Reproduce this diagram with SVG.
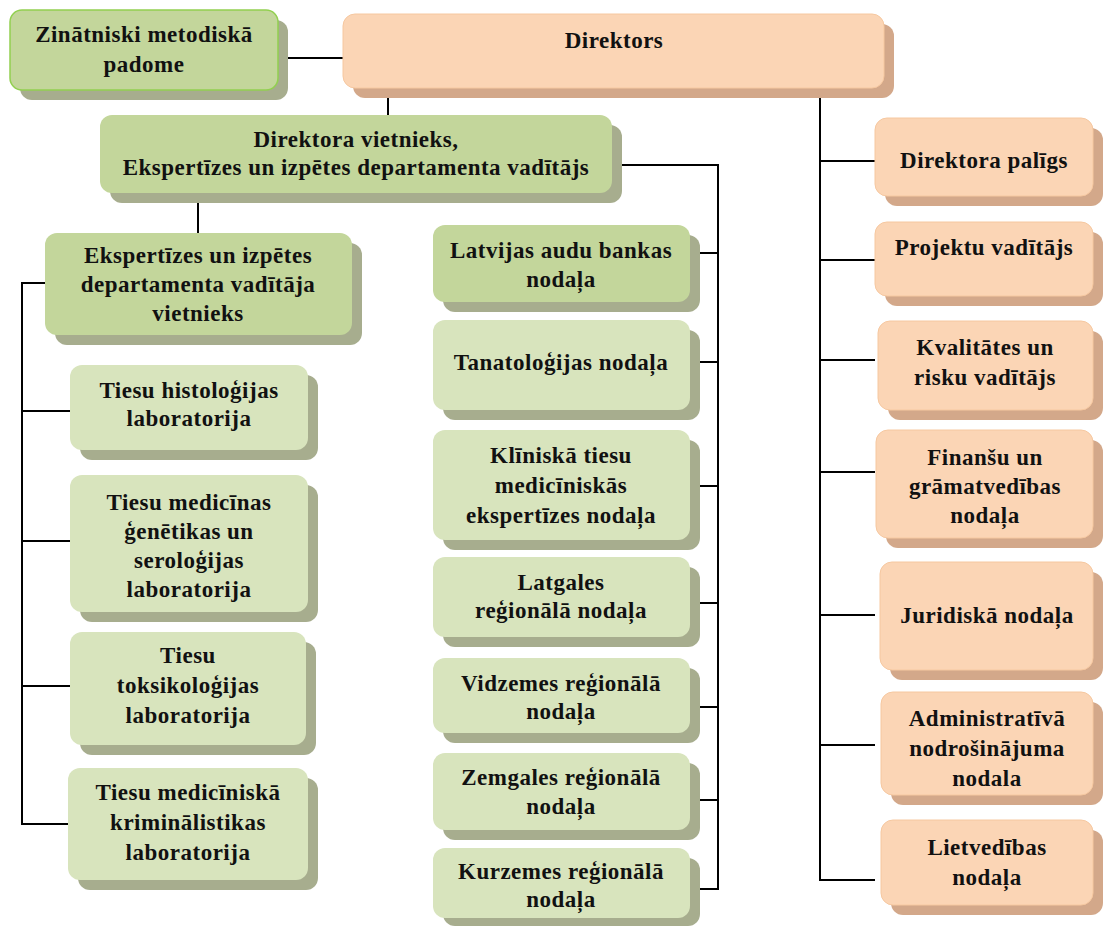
<svg xmlns="http://www.w3.org/2000/svg" width="1105" height="926" viewBox="0 0 1105 926">
<style>
text{font-family:"Liberation Serif","Times New Roman",serif;font-weight:bold;font-size:23px;fill:#111;text-anchor:middle;letter-spacing:0.5px}
.g1{fill:#c3d69b}
.g2{fill:#d8e4bd}
.gs{fill:#a7ad8e}
.p{fill:#fbd5b5;stroke:#f6c8a0;stroke-width:1}
.ps{fill:#d3a88a}
.bz{stroke:#92d050;stroke-width:1.5}
.c{fill:none;stroke:#000;stroke-width:2}
</style>
<g id="connectors">
<path class="c" d="M288,58 H343"/>
<path class="c" d="M388,88 V116"/>
<path class="c" d="M622,165 H718 V890"/>
<path class="c" d="M690,253 H718 M690,362 H718 M690,486 H718 M690,603 H718 M690,707 H718 M690,800 H718 M690,889 H718"/>
<path class="c" d="M198,195 V233"/>
<path class="c" d="M45,283 H22 V824 H70 M22,411 H70 M22,541 H70 M22,686 H70"/>
<path class="c" d="M820,97 V880 H875 M820,161 H875 M820,260 H875 M820,360 H875 M820,472 H875 M820,615 H875 M820,745 H875"/>
</g>
<g id="n-zinatniski">
<rect class="gs" x="20" y="20" width="268" height="80" rx="12"/>
<rect class="g1 bz" x="10" y="10" width="268" height="80" rx="12"/>
<text x="144" y="42">Zinātniski metodiskā</text>
<text x="144" y="72">padome</text>
</g>
<g id="n-direktors">
<rect class="ps" x="353" y="24" width="541" height="74" rx="12"/>
<rect class="p" x="343" y="14" width="541" height="74" rx="12"/>
<text x="614" y="48">Direktors</text>
</g>
<g id="n-vietnieks">
<rect class="gs" x="110" y="125" width="512" height="78" rx="12"/>
<rect class="g1" x="100" y="115" width="512" height="78" rx="12"/>
<text x="356" y="147">Direktora vietnieks,</text>
<text x="356" y="175">Ekspertīzes un izpētes departamenta vadītājs</text>
</g>
<g id="n-ekspertizes">
<rect class="gs" x="55" y="243" width="307" height="102" rx="12"/>
<rect class="g1" x="45" y="233" width="307" height="102" rx="12"/>
<text x="198" y="263">Ekspertīzes un izpētes</text>
<text x="198" y="292">departamenta vadītāja</text>
<text x="198" y="321">vietnieks</text>
</g>
<g id="n-histologijas">
<rect class="gs" x="80" y="375" width="238" height="85" rx="12"/>
<rect class="g2" x="70" y="365" width="238" height="85" rx="12"/>
<text x="189" y="398">Tiesu histoloģijas</text>
<text x="189" y="426">laboratorija</text>
</g>
<g id="n-genetikas">
<rect class="gs" x="80" y="485" width="238" height="137" rx="12"/>
<rect class="g2" x="70" y="475" width="238" height="137" rx="12"/>
<text x="189" y="510">Tiesu medicīnas</text>
<text x="189" y="539">ģenētikas un</text>
<text x="189" y="568">seroloģijas</text>
<text x="189" y="597">laboratorija</text>
</g>
<g id="n-toksikologijas">
<rect class="gs" x="80" y="642" width="236" height="113" rx="12"/>
<rect class="g2" x="70" y="632" width="236" height="113" rx="12"/>
<text x="188" y="663">Tiesu</text>
<text x="188" y="693">toksikoloģijas</text>
<text x="188" y="723">laboratorija</text>
</g>
<g id="n-kriminalistikas">
<rect class="gs" x="78" y="778" width="240" height="112" rx="12"/>
<rect class="g2" x="68" y="768" width="240" height="112" rx="12"/>
<text x="188" y="800">Tiesu medicīniskā</text>
<text x="188" y="830">kriminālistikas</text>
<text x="188" y="860">laboratorija</text>
</g>
<g id="n-audu-banka">
<rect class="gs" x="443" y="235" width="257" height="77" rx="12"/>
<rect class="g1" x="433" y="225" width="257" height="77" rx="12"/>
<text x="561" y="258">Latvijas audu bankas</text>
<text x="561" y="287">nodaļa</text>
</g>
<g id="n-tanatologijas">
<rect class="gs" x="443" y="330" width="257" height="90" rx="12"/>
<rect class="g2" x="433" y="320" width="257" height="90" rx="12"/>
<text x="561" y="370">Tanatoloģijas nodaļa</text>
</g>
<g id="n-kliniska">
<rect class="gs" x="443" y="440" width="257" height="110" rx="12"/>
<rect class="g2" x="433" y="430" width="257" height="110" rx="12"/>
<text x="561" y="463">Klīniskā tiesu</text>
<text x="561" y="493">medicīniskās</text>
<text x="561" y="523">ekspertīzes nodaļa</text>
</g>
<g id="n-latgales">
<rect class="gs" x="443" y="567" width="257" height="80" rx="12"/>
<rect class="g2" x="433" y="557" width="257" height="80" rx="12"/>
<text x="561" y="590">Latgales</text>
<text x="561" y="618">reģionālā nodaļa</text>
</g>
<g id="n-vidzemes">
<rect class="gs" x="443" y="668" width="257" height="75" rx="12"/>
<rect class="g2" x="433" y="658" width="257" height="75" rx="12"/>
<text x="561" y="691">Vidzemes reģionālā</text>
<text x="561" y="719">nodaļa</text>
</g>
<g id="n-zemgales">
<rect class="gs" x="443" y="763" width="257" height="77" rx="12"/>
<rect class="g2" x="433" y="753" width="257" height="77" rx="12"/>
<text x="561" y="785">Zemgales reģionālā</text>
<text x="561" y="814">nodaļa</text>
</g>
<g id="n-kurzemes">
<rect class="gs" x="443" y="858" width="257" height="68" rx="12"/>
<rect class="g2" x="433" y="848" width="257" height="70" rx="12"/>
<text x="561" y="879">Kurzemes reģionālā</text>
<text x="561" y="907">nodaļa</text>
</g>
<g id="n-paligs">
<rect class="ps" x="885" y="128" width="218" height="78" rx="12"/>
<rect class="p" x="875" y="118" width="218" height="78" rx="12"/>
<text x="984" y="168">Direktora palīgs</text>
</g>
<g id="n-projektu">
<rect class="ps" x="885" y="232" width="218" height="74" rx="12"/>
<rect class="p" x="875" y="222" width="218" height="74" rx="12"/>
<text x="984" y="255">Projektu vadītājs</text>
</g>
<g id="n-kvalitates">
<rect class="ps" x="888" y="331" width="215" height="89" rx="12"/>
<rect class="p" x="878" y="321" width="215" height="89" rx="12"/>
<text x="985" y="355">Kvalitātes un</text>
<text x="985" y="385">risku vadītājs</text>
</g>
<g id="n-finansu">
<rect class="ps" x="886" y="440" width="217" height="108" rx="12"/>
<rect class="p" x="876" y="430" width="217" height="108" rx="12"/>
<text x="985" y="465">Finanšu un</text>
<text x="985" y="494">grāmatvedības</text>
<text x="985" y="523">nodaļa</text>
</g>
<g id="n-juridiska">
<rect class="ps" x="890" y="572" width="213" height="108" rx="12"/>
<rect class="p" x="880" y="562" width="213" height="108" rx="12"/>
<text x="987" y="623">Juridiskā nodaļa</text>
</g>
<g id="n-administrativa">
<rect class="ps" x="891" y="702" width="212" height="103" rx="12"/>
<rect class="p" x="881" y="692" width="212" height="103" rx="12"/>
<text x="987" y="726">Administratīvā</text>
<text x="987" y="756">nodrošinājuma</text>
<text x="987" y="786">nodala</text>
</g>
<g id="n-lietvedibas">
<rect class="ps" x="891" y="830" width="212" height="85" rx="12"/>
<rect class="p" x="881" y="820" width="212" height="85" rx="12"/>
<text x="987" y="855">Lietvedības</text>
<text x="987" y="885">nodaļa</text>
</g>
</svg>
